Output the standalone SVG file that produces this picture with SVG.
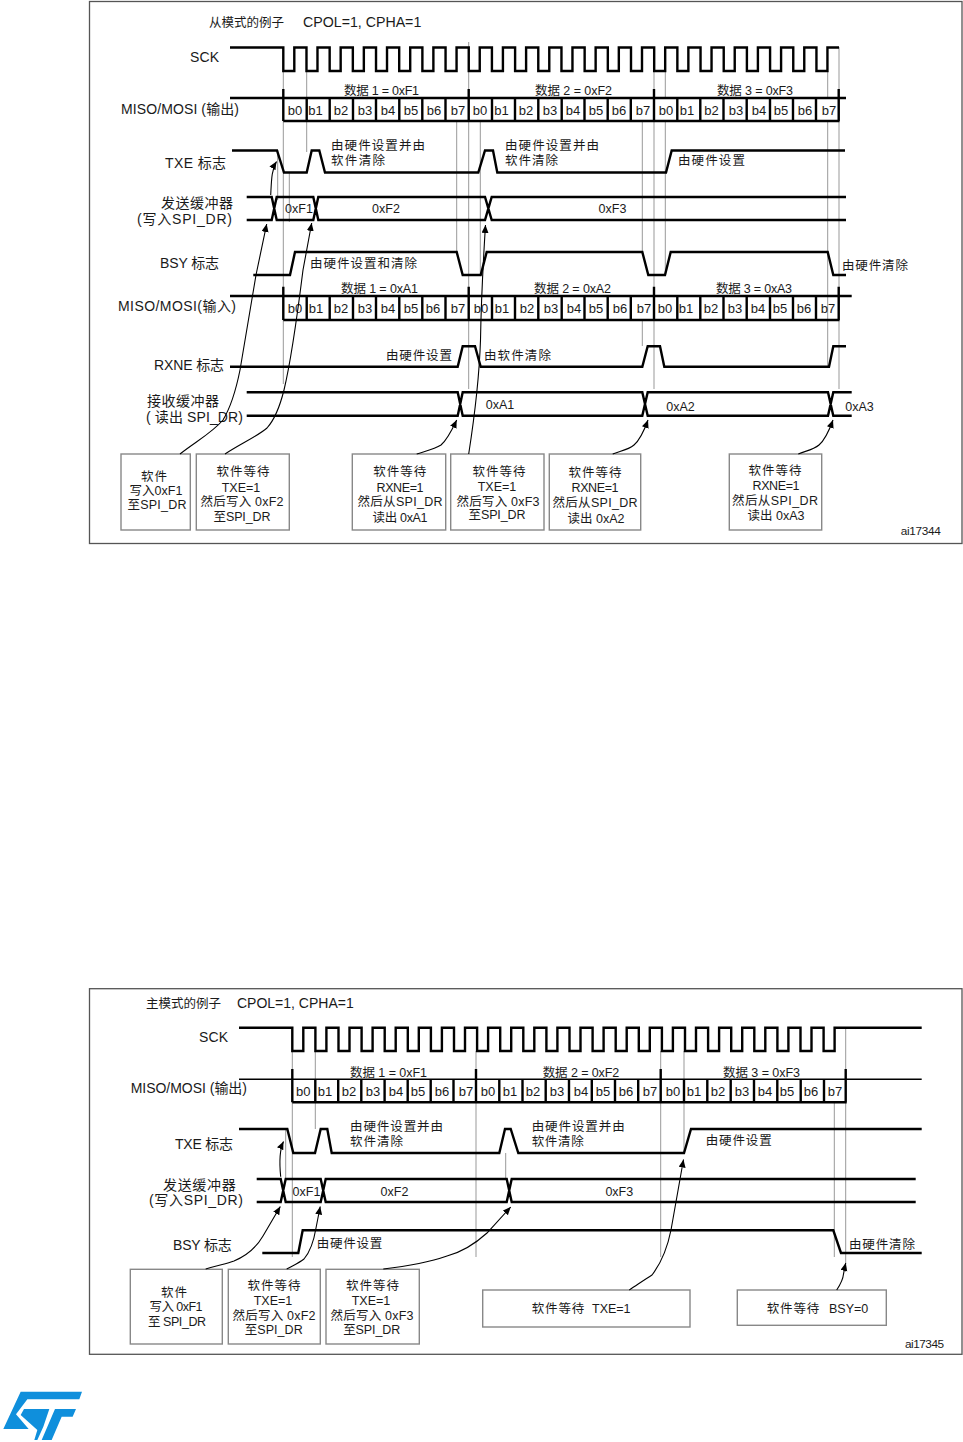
<svg xmlns="http://www.w3.org/2000/svg" width="963" height="1442" viewBox="0 0 963 1442">
<style>
text{font-family:"Liberation Sans","Noto Sans CJK SC",sans-serif;fill:#1a1a1a;font-size:14px}
.s{font-size:12.5px}
.c{font-size:11.8px}
.b{font-size:13px;text-anchor:middle}
.m{font-size:12.5px;text-anchor:middle}
.frame{fill:#fff;stroke:#555;stroke-width:1.3}
.box{fill:#fff;stroke:#888;stroke-width:1.4}
.sig{fill:none;stroke:#000;stroke-width:2.4;stroke-linejoin:miter}
.thin{fill:none;stroke:#000;stroke-width:1.5}
.ref{fill:none;stroke:#999;stroke-width:1}
.cur{fill:none;stroke:#000;stroke-width:1.1;marker-end:url(#ah)}
.logo{fill:#0f8fdc}
.cj{letter-spacing:.85px;font-size:12.5px}
</style>
<defs>
<marker id="ah" markerUnits="userSpaceOnUse" markerWidth="9" markerHeight="9" refX="8" refY="3.5" orient="auto"><path d="M0,0 L8,3.5 L0,7 Z" fill="#000"/></marker>
</defs>
<rect width="963" height="1442" fill="#fff"/>

<g id="slave-diagram">
<rect id="frame-top" class="frame" x="89.5" y="1.5" width="872.5" height="542"/>
<g id="ref-top" class="ref">
<path d="M283.3,71V89M283.3,121V384M306.7,71V98M306.7,121V152M277.7,150V200M289.3,172V222M468.7,42V389M456.7,121V253M480.3,121V275M642.3,121V252M642.3,320V346M654,71V389M665.3,71V98M665.3,121V275M827.7,71V98M827.7,121V366M839,47V389"/>
</g>
<g id="sck-top">
<text x="190" y="62" textLength="29">SCK</text>
<path class="sig" d="M230,47.5H283.3V71h11V47.5
h12.18v23.5h11V47.5h12.18v23.5h11V47.5h12.18v23.5h11V47.5h12.18v23.5h11V47.5h12.18v23.5h11V47.5
h12.18v23.5h11V47.5h12.18v23.5h11V47.5h12.18v23.5h11V47.5h12.18v23.5h11V47.5h12.18v23.5h11V47.5
h12.18v23.5h11V47.5h12.18v23.5h11V47.5h12.18v23.5h11V47.5h12.18v23.5h11V47.5h12.18v23.5h11V47.5
h12.18v23.5h11V47.5h12.18v23.5h11V47.5h12.18v23.5h11V47.5h12.18v23.5h11V47.5h12.18v23.5h11V47.5
h12.18v23.5h11V47.5h12.18v23.5h11V47.5h12.18v23.5h11V47.5
H839"/>
</g>
<g id="miso-out-top">
<text x="121" y="114" textLength="118">MISO/MOSI (输出)</text>
<path class="sig" d="M230,98H846M283.3,121H839.5M283.3,89V121M468.7,89V121M654,89V121M838.7,89V121M306.7,98V121M329.7,98V121M353,98V121M376,98V121M399.3,98V121M422.3,98V121M445.5,98V121M492,98V121M515,98V121M538.3,98V121M561.7,98V121M584.5,98V121M607.7,98V121M630.8,98V121M677.3,98V121M700.3,98V121M723.5,98V121M746.7,98V121M770,98V121M793,98V121M816,98V121"/>
<g class="labels">
<text class="s" x="344" y="95" textLength="75">数据 1 = 0xF1</text>
<text class="s" x="535" y="95" textLength="77">数据 2 = 0xF2</text>
<text class="s" x="717" y="95" textLength="76">数据 3 = 0xF3</text>
<text class="b" x="295" y="115">b0</text><text class="b" x="315.5" y="115">b1</text><text class="b" x="341" y="115">b2</text><text class="b" x="365" y="115">b3</text><text class="b" x="388" y="115">b4</text><text class="b" x="411" y="115">b5</text><text class="b" x="434" y="115">b6</text><text class="b" x="458" y="115">b7</text><text class="b" x="480" y="115">b0</text><text class="b" x="501.5" y="115">b1</text><text class="b" x="526" y="115">b2</text><text class="b" x="550" y="115">b3</text><text class="b" x="573" y="115">b4</text><text class="b" x="596" y="115">b5</text><text class="b" x="619" y="115">b6</text><text class="b" x="643" y="115">b7</text><text class="b" x="666" y="115">b0</text><text class="b" x="687" y="115">b1</text><text class="b" x="711.5" y="115">b2</text><text class="b" x="736" y="115">b3</text><text class="b" x="759" y="115">b4</text><text class="b" x="781" y="115">b5</text><text class="b" x="805" y="115">b6</text><text class="b" x="829" y="115">b7</text>
</g>
</g>
<g id="txe-top">
<text x="165" y="168" textLength="61">TXE 标志</text>
<path class="sig" d="M232,150.5H277L284,172.5H306.7L311.7,150.5H319.3L325,172.5H478.3L485,150.5H493L497.3,172.5H666L671.7,150.5H845"/>
<text class="s" x="331" y="150" textLength="94">由硬件设置并由</text>
<text class="s" x="331" y="165" textLength="54">软件清除</text>
<text class="s" x="505" y="150" textLength="94">由硬件设置并由</text>
<text class="s" x="505" y="165" textLength="53">软件清除</text>
<text class="s" x="678" y="165" textLength="67">由硬件设置</text>
</g>
<g id="txbuf-top">
<text x="161" y="208" textLength="72">发送缓冲器</text>
<text x="137" y="224" textLength="95">(写入SPI_DR)</text>
<path class="sig" d="M246.7,197H271.7L276.7,220H313.3L318.3,197H485L491.7,220H846M246.7,220H271.7L276.7,197H313.3L318.3,220H485L491.7,197H846"/>
<text class="m" x="299" y="213">0xF1</text><text class="m" x="386" y="213">0xF2</text><text class="m" x="612.5" y="213">0xF3</text>
</g>
<g id="bsy-top">
<text x="160" y="268" textLength="59">BSY 标志</text>
<path class="sig" d="M253.3,275H290L295,252H456.7L462.7,275H480.7L486.7,252H642.3L648.3,275H665L670.7,252H827.7L833.3,275H846"/>
<text class="s" x="310" y="268" textLength="107">由硬件设置和清除</text>
<text class="s" x="842" y="270" textLength="66">由硬件清除</text>
</g>
<g id="miso-in-top">
<text x="118" y="311" textLength="118">MISO/MOSI(输入)</text>
<path class="sig" d="M230,296H851.7M283.3,320H839.5M283.3,286.7V320M468.7,286.7V320M654,286.7V320M838.7,286.7V320M306.7,296V320M329.7,296V320M353,296V320M376,296V320M399.3,296V320M422.3,296V320M445.5,296V320M492,296V320M515,296V320M538.3,296V320M561.7,296V320M584.5,296V320M607.7,296V320M630.8,296V320M677.3,296V320M700.3,296V320M723.5,296V320M746.7,296V320M770,296V320M793,296V320M816,296V320"/>
<text class="s" x="341" y="292.5" textLength="77">数据 1 = 0xA1</text>
<text class="s" x="534" y="292.5" textLength="77">数据 2 = 0xA2</text>
<text class="s" x="716" y="292.5" textLength="76">数据 3 = 0xA3</text>
<text class="b" x="295" y="313">b0</text><text class="b" x="316" y="313">b1</text><text class="b" x="341" y="313">b2</text><text class="b" x="365" y="313">b3</text><text class="b" x="388" y="313">b4</text><text class="b" x="411" y="313">b5</text><text class="b" x="433" y="313">b6</text><text class="b" x="458" y="313">b7</text><text class="b" x="481" y="313">b0</text><text class="b" x="502" y="313">b1</text><text class="b" x="527" y="313">b2</text><text class="b" x="551" y="313">b3</text><text class="b" x="574" y="313">b4</text><text class="b" x="596" y="313">b5</text><text class="b" x="620" y="313">b6</text><text class="b" x="644" y="313">b7</text><text class="b" x="665" y="313">b0</text><text class="b" x="686" y="313">b1</text><text class="b" x="711" y="313">b2</text><text class="b" x="735" y="313">b3</text><text class="b" x="758" y="313">b4</text><text class="b" x="780" y="313">b5</text><text class="b" x="804" y="313">b6</text><text class="b" x="828" y="313">b7</text>
</g>
<g id="rxne-top">
<text x="154" y="370" textLength="70">RXNE 标志</text>
<path class="sig" d="M230,366.7H457.7L462.7,346.3H475L480.7,366.7H642.3L647.7,346.3H660L664.3,366.7H829L833.3,346.3H846"/>
<text class="s" x="386" y="360" textLength="66">由硬件设置</text>
<text class="s" x="484" y="360" textLength="67">由软件清除</text>
</g>
<g id="rxbuf-top">
<text x="147" y="406" textLength="72">接收缓冲器</text>
<text x="146" y="422" textLength="97">( 读出 SPI_DR)</text>
<path class="sig" d="M246.7,392.3H457.7L462.7,415.7H642.3L647.7,392.3H828L833.3,415.7H851.7M246.7,415.7H457.7L462.7,392.3H642.3L647.7,415.7H828L833.3,392.3H851.7"/>
<text class="m" x="500" y="409">0xA1</text><text class="m" x="680.5" y="411">0xA2</text><text class="m" x="859.5" y="411">0xA3</text>
</g>
<g id="box1-top"><rect class="box" x="121" y="454" width="69.3" height="76"/>
<text class="m" x="154" y="481" textLength="26">软件</text><text class="m" x="156" y="495" textLength="53">写入0xF1</text><text class="m" x="157" y="509" textLength="59">至SPI_DR</text></g>
<g id="box2-top"><rect class="box" x="196.3" y="454" width="93" height="76"/>
<text class="m" x="243" y="476" textLength="53">软件等待</text><text class="m" x="241" y="491.5">TXE=1</text><text class="m" x="242" y="506" textLength="83">然后写入 0xF2</text><text class="m" x="242" y="520.5" textLength="57">至SPI_DR</text></g>
<g id="box3-top"><rect class="box" x="352.3" y="454" width="93.4" height="76"/>
<text class="m" x="399.7" y="476" textLength="53">软件等待</text><text class="m" x="400" y="491.5" textLength="47">RXNE=1</text><text class="m" x="400" y="506" textLength="85">然后从SPI_DR</text><text class="m" x="400" y="521.5" textLength="55">读出 0xA1</text></g>
<g id="box4-top"><rect class="box" x="450.7" y="454" width="93.3" height="76"/>
<text class="m" x="499" y="476" textLength="53">软件等待</text><text class="m" x="497" y="491">TXE=1</text><text class="m" x="498" y="506" textLength="83">然后写入 0xF3</text><text class="m" x="497" y="519" textLength="57">至SPI_DR</text></g>
<g id="box5-top"><rect class="box" x="549.3" y="454" width="91.4" height="76"/>
<text class="m" x="595" y="476.5" textLength="53">软件等待</text><text class="m" x="595" y="491.5" textLength="47">RXNE=1</text><text class="m" x="595" y="506.5" textLength="85">然后从SPI_DR</text><text class="m" x="596" y="522.5" textLength="57">读出 0xA2</text></g>
<g id="box6-top"><rect class="box" x="729.3" y="454" width="92.4" height="76"/>
<text class="m" x="775" y="475" textLength="53">软件等待</text><text class="m" x="776" y="490" textLength="47">RXNE=1</text><text class="m" x="775" y="505" textLength="86">然后从SPI_DR</text><text class="m" x="776" y="520" textLength="57">读出 0xA3</text></g>
<g id="connectors-top">
<path class="cur" d="M270.7,195C271.5,180 271.5,170 276.5,161.5"/>
<path class="cur" d="M180,454C195,442 212,433 223,420C232,405 237,385 240,370C246,335 252,300 256,275L266.7,224"/>
<path class="cur" d="M225,454C240,444 258,436 267,428C276,418 281,402 284,390C290,365 298,310 303,270L311.7,223"/>
<path class="cur" d="M416.7,454C426,451 435,449 441,445C447,440 452,430 456.7,420"/>
<path class="cur" d="M468.7,454C474,420 479,385 480.5,340C481,310 483,265 485.5,225"/>
<path class="cur" d="M612.7,454C620,451 628,450 634,445C640,440 644,431 648,420"/>
<path class="cur" d="M798.3,454C805,451 813,450 819,445C825,440 829,431 833,420"/>
</g>
<text id="title-top" y="27"><tspan class="cj" x="209" style="letter-spacing:0">从模式的例子</tspan><tspan x="303" style="font-size:14.2px">CPOL=1, CPHA=1</tspan></text>
<text id="code-top" class="c" x="900.7" y="535" textLength="40">ai17344</text>
</g>

<g id="master-diagram">
<rect id="frame-bottom" class="frame" x="89.5" y="988.7" width="872.5" height="365.6"/>
<g id="ref-bottom" class="ref">
<path d="M292.3,1051V1069M292.3,1102V1257M315.3,1051V1079M315.3,1102V1129M285.7,1130V1179M476,1051V1257M505.7,1153V1180M660.7,1051V1257M684,1051V1153M834.3,1102V1257M845.7,1028V1272"/>
</g>
<g id="sck-bottom">
<text x="199" y="1042" textLength="29">SCK</text>
<path class="sig" d="M239,1027.7H292.3V1051h11V1027.7
h12.1v23.3h11V1027.7h12.1v23.3h11V1027.7h12.1v23.3h11V1027.7h12.1v23.3h11V1027.7h12.1v23.3h11V1027.7
h12.1v23.3h11V1027.7h12.1v23.3h11V1027.7h12.1v23.3h11V1027.7h12.1v23.3h11V1027.7h12.1v23.3h11V1027.7
h12.1v23.3h11V1027.7h12.1v23.3h11V1027.7h12.1v23.3h11V1027.7h12.1v23.3h11V1027.7h12.1v23.3h11V1027.7
h12.1v23.3h11V1027.7h12.1v23.3h11V1027.7h12.1v23.3h11V1027.7h12.1v23.3h11V1027.7h12.1v23.3h11V1027.7
h12.1v23.3h11V1027.7h12.1v23.3h11V1027.7h12.1v23.3h11V1027.7
H921.7"/>
</g>
<g id="miso-out-bottom">
<text x="130.7" y="1093" textLength="116.3">MISO/MOSI (输出)</text>
<path class="thin" d="M239,1079.3H921.7"/>
<path class="sig" d="M292.3,1102.3H846.7M292.3,1069V1102.3M476,1069V1102.3M660.7,1069V1102.3M845.7,1069V1102.3M315.3,1080V1102.3M338.2,1080V1102.3M361.3,1080V1102.3M384.6,1080V1102.3M407.7,1080V1102.3M430.7,1080V1102.3M453.5,1080V1102.3M499.3,1080V1102.3M522.5,1080V1102.3M545.7,1080V1102.3M569,1080V1102.3M591.8,1080V1102.3M615,1080V1102.3M638.2,1080V1102.3M684,1080V1102.3M707.3,1080V1102.3M730.7,1080V1102.3M754,1080V1102.3M777.3,1080V1102.3M800.7,1080V1102.3M824,1080V1102.3"/>
<text class="s" x="350" y="1076.5" textLength="77">数据 1 = 0xF1</text>
<text class="s" x="542.7" y="1076.5" textLength="76.5">数据 2 = 0xF2</text>
<text class="s" x="723" y="1076.5" textLength="77">数据 3 = 0xF3</text>
<text class="b" x="303.3" y="1096">b0</text><text class="b" x="325" y="1096">b1</text><text class="b" x="349" y="1096">b2</text><text class="b" x="373" y="1096">b3</text><text class="b" x="396" y="1096">b4</text><text class="b" x="418" y="1096">b5</text><text class="b" x="442" y="1096">b6</text><text class="b" x="466" y="1096">b7</text><text class="b" x="488" y="1096">b0</text><text class="b" x="510" y="1096">b1</text><text class="b" x="533" y="1096">b2</text><text class="b" x="557" y="1096">b3</text><text class="b" x="581" y="1096">b4</text><text class="b" x="603" y="1096">b5</text><text class="b" x="626" y="1096">b6</text><text class="b" x="650" y="1096">b7</text><text class="b" x="673" y="1096">b0</text><text class="b" x="694" y="1096">b1</text><text class="b" x="718" y="1096">b2</text><text class="b" x="742" y="1096">b3</text><text class="b" x="765" y="1096">b4</text><text class="b" x="787" y="1096">b5</text><text class="b" x="811" y="1096">b6</text><text class="b" x="835" y="1096">b7</text>
</g>
<g id="txe-bottom">
<text x="175" y="1149" textLength="58">TXE 标志</text>
<path class="sig" d="M239,1129H287.3L293.3,1153H315L320.7,1129H327.3L331.7,1153H499.3L505,1129H510.7L518.3,1153H684L691,1129H921.7"/>
<text class="s" x="350" y="1131" textLength="93">由硬件设置并由</text>
<text class="s" x="350" y="1145.5" textLength="53">软件清除</text>
<text class="s" x="531.7" y="1131" textLength="93">由硬件设置并由</text>
<text class="s" x="531.7" y="1145.5" textLength="52">软件清除</text>
<text class="s" x="705.7" y="1145" textLength="66">由硬件设置</text>
</g>
<g id="txbuf-bottom">
<text x="163" y="1190" textLength="72.7">发送缓冲器</text>
<text x="149" y="1205" textLength="94">(写入SPI_DR)</text>
<path class="sig" d="M256.7,1179H280.7L285.7,1202H320.7L325.7,1179H506.7L511.7,1202H915.7M256.7,1202H280.7L285.7,1179H320.7L325.7,1202H506.7L511.7,1179H915.7"/>
<text class="m" x="306.5" y="1196">0xF1</text><text class="m" x="394.5" y="1196">0xF2</text><text class="m" x="619.3" y="1196">0xF3</text>
</g>
<g id="bsy-bottom">
<text x="173" y="1250" textLength="58.7">BSY 标志</text>
<path class="sig" d="M262.3,1253H298.3L302.7,1230.3H833.3L841,1253H921.7"/>
<text class="s" x="316.7" y="1248" textLength="65.6">由硬件设置</text>
<text class="s" x="849" y="1249" textLength="66">由硬件清除</text>
</g>
<g id="box1-bottom"><rect class="box" x="130.3" y="1269.3" width="92" height="74.7"/>
<text class="m" x="174" y="1297.3" textLength="26">软件</text><text class="m" x="176" y="1311" textLength="53">写入 0xF1</text><text class="m" x="177" y="1325.7" textLength="58">至 SPI_DR</text></g>
<g id="box2-bottom"><rect class="box" x="228.3" y="1269.3" width="92" height="74.7"/>
<text class="m" x="274" y="1290" textLength="53">软件等待</text><text class="m" x="273" y="1305">TXE=1</text><text class="m" x="274" y="1320" textLength="83">然后写入 0xF2</text><text class="m" x="273.7" y="1334" textLength="58">至SPI_DR</text></g>
<g id="box3-bottom"><rect class="box" x="326" y="1269.3" width="93.3" height="74.7"/>
<text class="m" x="372.5" y="1290" textLength="53">软件等待</text><text class="m" x="371" y="1305">TXE=1</text><text class="m" x="372" y="1320" textLength="83">然后写入 0xF3</text><text class="m" x="371.7" y="1334" textLength="57">至SPI_DR</text></g>
<g id="box4-bottom"><rect class="box" x="482.7" y="1290" width="207.3" height="37"/>
<text class="s" y="1312.7"><tspan class="cj" x="531.7">软件等待</tspan><tspan x="592">TXE=1</tspan></text></g>
<g id="box5-bottom"><rect class="box" x="737.3" y="1290" width="149" height="35.3"/>
<text class="s" y="1312.7"><tspan class="cj" x="766.7">软件等待</tspan><tspan x="829">BSY=0</tspan></text></g>
<g id="connectors-bottom">
<path class="cur" d="M280.7,1176.7C279.5,1165 279.5,1150 283.5,1141.5"/>
<path class="cur" d="M205.7,1269C218,1265 226,1264 234,1261C246,1256 256,1248 263,1236L280.3,1206.5"/>
<path class="cur" d="M286.7,1269C294,1265 299,1263 304,1259C310,1252 314,1240 316,1228L320.2,1206.5"/>
<path class="cur" d="M383.3,1269C410,1266 430,1262 447,1256C462,1252 476,1243 487,1233L510.7,1207"/>
<path class="cur" d="M629.3,1290C637,1285 644,1280 652,1275C662,1262 668,1245 671,1230L683.5,1159.5"/>
<path class="cur" d="M836.7,1290C840,1285 843,1280 843.5,1274C844,1272 844.5,1268 845.7,1263"/>
</g>
<text id="title-bottom" y="1008"><tspan class="cj" x="146" style="letter-spacing:0">主模式的例子</tspan><tspan x="237" style="font-size:14px">CPOL=1, CPHA=1</tspan></text>
<text id="code-bottom" class="c" x="905" y="1348" textLength="39">ai17345</text>
</g>

<g id="st-logo" class="logo" transform="translate(0,1385) scale(0.3333)">
<path d="M62,20H246L238,43H82L60,72L48,88L86,132H10Z"/>
<path d="M72,72H148L130,125L112,165H103L112,135L62,90Z"/>
<path d="M165,72H228L218,95H185L155,165H125L155,95Z"/>
</g>
</svg>
